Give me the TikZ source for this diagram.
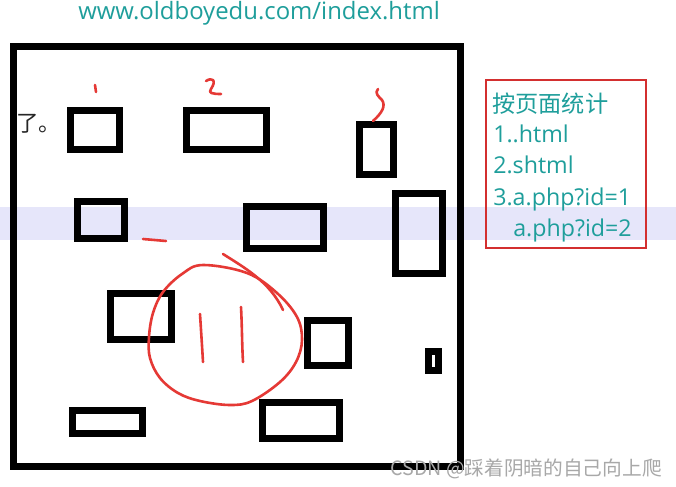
\documentclass[tikz,border=0pt]{standalone}
\usepackage{fontspec}
\setmainfont{Open Sans}
\newfontfamily\cjk{Noto Sans CJK SC}
\usetikzlibrary{positioning}

\newdimen\pxu \pxu=0.025cm
\definecolor{tealtext}{HTML}{1E9E9B}
\definecolor{inkred}{HTML}{E53935}
\definecolor{boxred}{HTML}{D32F2F}
\definecolor{bandblue}{HTML}{E6E6FA}
\definecolor{markgray}{HTML}{A8A8A8}

\begin{document}
\begin{tikzpicture}[x=0.025cm, y=-0.025cm,
    block/.style={rectangle, draw=black, line width=7\pxu, inner sep=0pt, outer sep=0pt},
    ink/.style={draw=inkred, line width=2.6\pxu, line cap=round, line join=round},
    stat/.style={text=tealtext, inner sep=0pt, font=\fontsize{16.5}{19}\selectfont}]
        \useasboundingbox (0,0) rectangle (676,486);
        \fill[white] (0,0) rectangle (676,486);
        \fill[bandblue] (0,207) rectangle (676,240);

        % page frame and its blocks
        \node[block, minimum width=447\pxu, minimum height=419\pxu] (page) at (236.5,256.5) {};
        \node[block, minimum width=49\pxu, minimum height=39\pxu] (b1) at (95,130) {};
        \node[block, minimum width=80\pxu, minimum height=39\pxu] (b2) at (226.5,130) {};
        \node[block, minimum width=34\pxu, minimum height=50\pxu] (b3) at (376.5,149.5) {};
        \node[block, minimum width=47\pxu, minimum height=37\pxu] (b4) at (101,220) {};
        \node[block, minimum width=77\pxu, minimum height=42\pxu] (b5) at (285,227.5) {};
        \node[block, minimum width=47\pxu, minimum height=80\pxu] (b6) at (419,233.5) {};
        \node[block, minimum width=10\pxu, minimum height=19\pxu] (b7) at (433.5,361) {};
        \node[block, minimum width=61\pxu, minimum height=46\pxu] (b8) at (141,316.5) {};
        \node[block, minimum width=41\pxu, minimum height=45\pxu] (b9) at (328,343) {};
        \node[block, minimum width=70\pxu, minimum height=23\pxu] (b10) at (107.5,422) {};
        \node[block, minimum width=77\pxu, minimum height=36\pxu] (b11) at (301,420.5) {};

        % texts
        \node[stat, anchor=base west, font=\fontsize{17}{20}\selectfont] (url) at (78,20) {www.oldboyedu.com/index.html};
        \node[anchor=base west, inner sep=0pt, text=black!85,
            font=\cjk\fontsize{16}{18}\selectfont] (aside) at (16,131) {了。};

        \node[rectangle, draw=boxred, line width=2\pxu, minimum width=160\pxu,
            minimum height=168\pxu] (statbox) at (566,164) {};
        \node[stat, anchor=base west] (st0) at (492,112) {\cjk 按页面统计};
        \node[stat, anchor=base west] (st1) at (493,142) {1..html};
        \node[stat, anchor=base west] (st2) at (493,173) {2.shtml};
        \node[stat, anchor=base west] (st3) at (493,205) {3.a.php?id=1};
        \node[stat, anchor=base west] (st4) at (513,236) {a.php?id=2};

        \node[anchor=base west, inner sep=0pt, text=markgray,
            font=\cjk\fontsize{14}{16}\selectfont] (mark) at (390,475) {CSDN @踩着阴暗的自己向上爬};

        % handwriting
        \draw[ink] (95,85) -- (96,92);
        \draw[ink] (206,81) .. controls (212,77) and (217,80) .. (211,89)
            .. controls (208,93) and (212,94) .. (221,94);
        \draw[ink] (378,89) .. controls (374,93) and (379,97) .. (382,100)
            .. controls (386,106) and (382,113) .. (373,121);
        \draw[ink] (143,239) -- (166,241);
        \draw[ink] plot[smooth cycle, tension=0.6] coordinates {(203,265) (247,273) (277,293)
            (297,317) (302,340) (296,362) (280,382) (252,401) (230,405) (200,401)
            (178,393) (160,378) (150,358) (149,337) (153,313) (163,292) (182,274)};
        \draw[ink] (223,254) .. controls (245,268) and (270,282) .. (283,310);
        \draw[ink] (200,314) .. controls (201,330) and (202,345) .. (203,362);
        \draw[ink] (241,307) .. controls (242,325) and (242,345) .. (243,362);
    \end{tikzpicture}
\end{document}
